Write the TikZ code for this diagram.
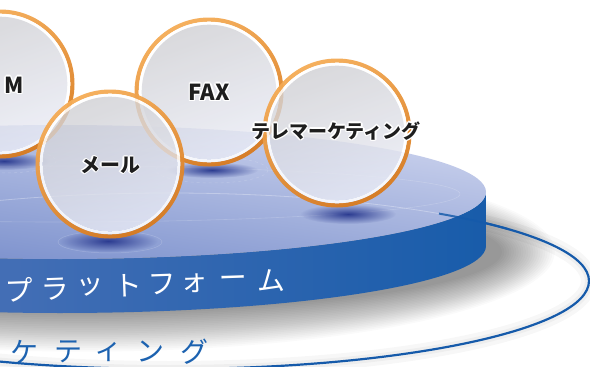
\documentclass[tikz,border=0pt]{standalone}
\usepackage{fontspec}
\newfontfamily\jp{Noto Sans CJK JP}
\usetikzlibrary{fadings}
\definecolor{ringblue}{RGB}{21,90,170}
\definecolor{faceTop}{RGB}{205,212,238}
\definecolor{faceMid}{RGB}{136,154,208}
\definecolor{faceBot}{RGB}{112,135,200}
\definecolor{sideL}{RGB}{100,124,190}
\definecolor{sideR}{RGB}{24,92,170}
\definecolor{orT}{RGB}{245,172,86}
\definecolor{orB}{RGB}{216,122,30}
\definecolor{bubTop}{RGB}{208,208,212}
\definecolor{bubBot}{RGB}{234,236,246}
\definecolor{spot}{RGB}{44,60,145}
\definecolor{txt}{RGB}{30,30,30}
\definecolor{blueTxt}{RGB}{28,98,176}
\tikzfading[name=softspot, inner color=transparent!0, outer color=transparent!100]
\tikzset{
  orangering/.style={shade, top color=orT, bottom color=orB, shading angle=25, even odd rule, fill opacity=0.95},
  whitering/.style={fill=white, even odd rule, fill opacity=0.88},
  innerdisc/.style={shade, top color=bubTop, middle color=white, bottom color=bubBot, shading angle=20, fill opacity=0.8},
  bubshadow/.style={fill=spot, path fading=softspot},
  label/.style={font=\jp\bfseries, text=txt, inner sep=0pt},
  halo/.style={font=\jp\bfseries, text=white, inner sep=0pt},
  wtxt/.style={font=\jp\fontsize{28}{28}\selectfont, text=white, inner sep=0pt},
  btxt/.style={font=\jp\fontsize{28}{28}\selectfont, text=blueTxt, inner sep=0pt},
}
\newcommand\drawbubble[2]{%
  \path[orangering] (#1,#2) circle[radius=74.5] (#1,#2) circle[radius=70.3];
  \path[whitering] (#1,#2) circle[radius=70.3] (#1,#2) circle[radius=67.3];
  \path[innerdisc] (#1,#2) circle[radius=67.3];
}
\newcommand\halolabel[5]{% x y name size text
  \foreach \a in {0,45,...,315}
    \node[halo, font=\jp\bfseries\fontsize{#4}{#4}\selectfont, shift={(\a:1.4)}] (#3h\a) at (#1,#2) {#5};
  \node[label, font=\jp\bfseries\fontsize{#4}{#4}\selectfont] (#3) at (#1,#2) {#5};
}
\begin{document}
\begin{tikzpicture}[x=1pt,y=-1pt]
\useasboundingbox (0,0) rectangle (590,367);
\clip (0,0) rectangle (590,367);
\fill[white] (0,0) rectangle (590,367);

% soft shadow under the disk
\foreach \k in {0,...,22}
  \fill[black, opacity=0.02] (82,252) ellipse[x radius={420+2.4*\k}, y radius={60+1.8*\k}];

% outer ring glow and ring
\draw[black, line width=16, opacity=0.03] (169,281) ellipse[x radius=420, y radius=88];
\draw[black, line width=8, opacity=0.035] (169,281) ellipse[x radius=420, y radius=88];
\draw[ringblue, line width=2.2] (169,281) ellipse[x radius=420, y radius=88];

% disk side
\path[shade, left color=sideL, right color=sideR]
  (-366,192) arc[start angle=180, end angle=0, x radius=426, y radius=67]
  -- (486,246) arc[start angle=0, end angle=180, x radius=426, y radius=67] -- cycle;
% disk top face
\path[shade, top color=faceTop, middle color=faceMid, bottom color=faceBot, shading angle=-8]
  (60,192) ellipse[x radius=426, y radius=67];

% faint ring seen through the top face
\begin{scope}
  \clip (60,192) ellipse[x radius=426, y radius=67];
  \draw[white, opacity=0.3, line width=0.8] (169,281) ellipse[x radius=420, y radius=88];
  \draw[white, opacity=0.18, line width=0.6] (60,194) ellipse[x radius=400, y radius=28];
\end{scope}
\draw[ringblue, line width=2, opacity=0.85, domain=-50:-36, samples=20]
  plot ({169+420*cos(\x)},{281+88*sin(\x)});

% bubble shadows on the disk
\begin{scope}
  \clip (60,192) ellipse[x radius=426, y radius=67];
  \fill[bubshadow] (4,161) ellipse[x radius=46, y radius=9];
  \fill[bubshadow] (212,170) ellipse[x radius=46, y radius=8];
  \fill[bubshadow] (348,214) ellipse[x radius=48, y radius=10];
  \fill[bubshadow] (108,241) ellipse[x radius=50, y radius=11];
  \draw[white, opacity=0.18, line width=0.5, dashed] (212,170) ellipse[x radius=56, y radius=13];
  \draw[white, opacity=0.18, line width=0.5] (110,242) ellipse[x radius=52, y radius=11];
  \draw[white, opacity=0.18, line width=0.5, dashed] (4,161) ellipse[x radius=52, y radius=12];
\end{scope}

% bubbles
\drawbubble{0}{84}
\drawbubble{209}{92}
\drawbubble{337}{133}
\drawbubble{110}{164}

% bubble labels
\halolabel{14}{85}{dm}{22}{M}
\halolabel{209}{92}{fax}{22}{FAX}
\halolabel{336}{131}{tele}{19}{テレマーケティング}
\halolabel{110}{165}{mail}{20}{メール}

% platform text on the disk side
\foreach \c/\xx [count=\i] in {プ/19, ラ/55, ッ/90, ト/128, フ/162, ォ/194, ー/233, ム/271}
  \node[wtxt, rotate=2] (pf\i) at (\xx, {290-(\xx-19)*0.036}) {\c};

% marketing text below
\foreach \c/\xx [count=\i] in {ケ/24, テ/68, ィ/108, ン/150, グ/194}
  \node[btxt] (mk\i) at (\xx, 352) {\c};
\end{tikzpicture}
\end{document}
